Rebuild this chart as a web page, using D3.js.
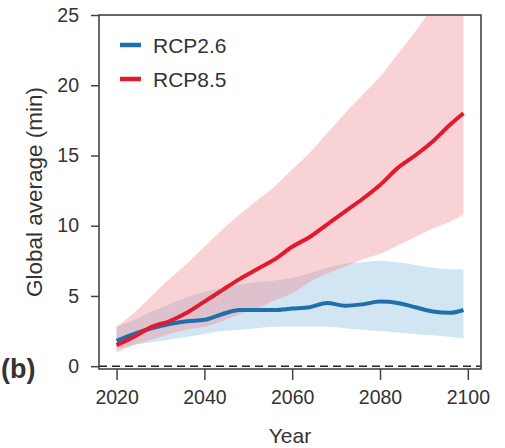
<!DOCTYPE html>
<html>
<head>
<meta charset="utf-8">
<script src="https://cdn.jsdelivr.net/npm/d3@7"></script>
<style>
  html, body { margin: 0; padding: 0; background: #fff; }
  svg { display: block; }
  text { font-family: "Liberation Sans", Arial, sans-serif; fill: #333; }
</style>
</head>
<body>
<svg id="chart" width="505" height="448"></svg>
<script>
const years     = [2020,2024,2028,2032,2036,2040,2044,2048,2052,2056,2060,2064,2068,2072,2076,2080,2084,2088,2092,2096,2099];
const rcp85     = [1.5,2.1,2.8,3.2,3.8,4.6,5.4,6.2,6.9,7.6,8.5,9.2,10.1,11.0,11.9,12.9,14.1,15.0,16.0,17.2,18.0];
const rcp85Up   = [2.8,3.8,5.0,6.2,7.3,8.5,9.7,10.8,11.8,12.8,14.0,15.2,16.6,18.0,19.3,20.6,22.2,23.8,25.5,26.5,27.5];
const rcp85Lo   = [1.0,1.5,1.9,2.3,2.6,2.8,3.2,3.7,4.1,4.7,5.2,6.0,6.6,7.1,7.6,8.0,8.6,9.2,9.8,10.3,10.8];
const rcp26     = [1.8,2.3,2.7,3.0,3.2,3.3,3.7,4.0,4.0,4.0,4.1,4.2,4.5,4.3,4.4,4.6,4.5,4.2,3.9,3.8,4.0];
const rcp26Up   = [2.8,3.3,3.9,4.4,4.9,5.3,5.6,5.8,6.0,6.1,6.3,6.6,7.0,7.3,7.4,7.5,7.4,7.2,7.0,6.9,6.9];
const rcp26Lo   = [1.2,1.5,1.7,1.9,2.1,2.3,2.5,2.6,2.7,2.8,2.8,2.8,2.8,2.7,2.6,2.5,2.4,2.3,2.2,2.1,2.0];
const xTicks    = [2020,2040,2060,2080,2100];
const yTicks    = [0,5,10,15,20,25];
const seriesNames = ["RCP2.6","RCP8.5"];

const svg = d3.select("#chart");
const L = 99, R = 481, T = 15, B = 369;
const x = d3.scaleLinear().domain([2016, 2103]).range([L, R]);
const y = d3.scaleLinear().domain([-0.2, 25]).range([B, T]);

svg.append("clipPath").attr("id","clip")
  .append("rect").attr("x", L).attr("y", T).attr("width", R - L).attr("height", B - T);

const g = svg.append("g").attr("clip-path","url(#clip)");

const area = (lo, hi) => d3.area()
  .x((d,i) => x(years[i]))
  .y0((d,i) => y(lo[i]))
  .y1((d,i) => y(hi[i]))
  .curve(d3.curveMonotoneX)(years);

const line = (v) => d3.line()
  .x((d,i) => x(years[i]))
  .y((d,i) => y(v[i]))
  .curve(d3.curveMonotoneX)(years);

g.append("path").attr("d", area(rcp26Lo, rcp26Up)).attr("fill","#8fbde0").attr("fill-opacity",0.4);
g.append("path").attr("d", area(rcp85Lo, rcp85Up)).attr("fill","#ef8a93").attr("fill-opacity",0.38);

// zero dashed line
g.append("line").attr("x1", L).attr("x2", R).attr("y1", y(0)).attr("y2", y(0))
  .attr("stroke","#222").attr("stroke-width",1.6).attr("stroke-dasharray","8,5");

g.append("path").attr("d", line(rcp26)).attr("fill","none").attr("stroke","#1f6fad").attr("stroke-width",4).attr("stroke-linejoin","round");
g.append("path").attr("d", line(rcp85)).attr("fill","none").attr("stroke","#e31a2e").attr("stroke-width",4).attr("stroke-linejoin","round");

// frame
svg.append("rect").attr("x", L).attr("y", T).attr("width", R - L).attr("height", B - T)
  .attr("fill","none").attr("stroke","#444").attr("stroke-width",1.6);

// axes
const xAxis = svg.append("g").attr("transform", `translate(0,${B})`)
  .call(d3.axisBottom(x).tickValues(xTicks).tickFormat(d3.format("d")).tickSize(11).tickPadding(10));
const yAxis = svg.append("g").attr("transform", `translate(${L},0)`)
  .call(d3.axisLeft(y).tickValues(yTicks).tickSize(8).tickPadding(12));
[xAxis, yAxis].forEach(a => {
  a.select(".domain").remove();
  a.selectAll(".tick line").attr("stroke","#444").attr("stroke-width",1.5);
  a.selectAll(".tick text").style("font-size","19.5px").style("font-family",'"Liberation Sans", Arial, sans-serif').attr("fill","#333");
});

// labels
svg.append("text").attr("x", 290).attr("y", 443).attr("text-anchor","middle")
  .style("font-size","21px").text("Year");
svg.append("text").attr("transform", `translate(42,192) rotate(-90)`).attr("text-anchor","middle")
  .style("font-size","22.5px").text("Global average (min)");
svg.append("text").attr("x", 1).attr("y", 378).style("font-size","27px").style("font-weight","bold")
  .attr("fill","#111").text("(b)");

// legend
const legColors = ["#1f6fad","#e31a2e"];
seriesNames.forEach((n,i) => {
  const yy = 45 + i * 34;
  svg.append("line").attr("x1",120).attr("x2",141).attr("y1",yy).attr("y2",yy)
    .attr("stroke",legColors[i]).attr("stroke-width",4.5);
  svg.append("text").attr("x",153).attr("y",yy + 7.5).style("font-size","21px").text(n);
});
</script>
</body>
</html>
